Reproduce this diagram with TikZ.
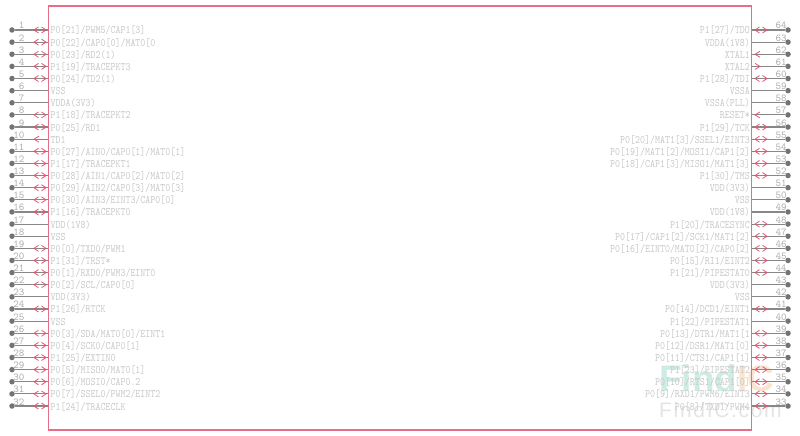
\documentclass[tikz,border=0pt]{standalone}
\usepackage{graphicx}
\usepackage{fontspec}
\newfontfamily\wmfont{Liberation Sans}
\newfontfamily\wmspaced[LetterSpace=8]{Liberation Sans}
\definecolor{chipred}{RGB}{232,110,135}
\definecolor{pinred}{RGB}{226,85,112}
\definecolor{pingrey}{RGB}{135,135,135}
\definecolor{numgrey}{RGB}{170,170,170}
\definecolor{labgrey}{RGB}{200,200,200}
\definecolor{wmteal}{RGB}{205,236,228}
\definecolor{wmorange}{RGB}{250,228,208}
\definecolor{wmgrey}{RGB}{228,228,228}
\tikzset{
  chipbox/.style={draw=chipred,line width=1.1pt,fill=none,minimum width=703pt,minimum height=424pt,inner sep=0pt},
  pindot/.style={circle,fill=pingrey!85!black,inner sep=0pt,minimum size=5.5pt},
  pinwire/.style={draw=pingrey,line width=1.1pt},
  pinnum/.style={text=numgrey,inner sep=0pt,font=\ttfamily\fontsize{10.5}{11}\selectfont},
  pinlab/.style={text=labgrey,inner sep=0pt,font=\ttfamily\fontsize{9.5}{10}\selectfont},
  chevron/.style={draw=pinred,line width=0.8pt},
  wmbig/.style={inner sep=0pt,font=\wmfont\bfseries\fontsize{37}{38}\selectfont},
  wmsmall/.style={inner sep=0pt,text=wmgrey,font=\wmspaced\fontsize{21}{22}\selectfont}
}
\newcommand\markBi[2]{%
  \draw[chevron] (#1+4.5,#2-3)--(#1,#2)--(#1+4.5,#2+3);
  \draw[chevron] (#1+7.5,#2-3)--(#1+12,#2)--(#1+7.5,#2+3);}
\newcommand\markInn[2]{\draw[chevron] (#1+5,#2-3)--(#1,#2)--(#1+5,#2+3);}
\newcommand\markOut[2]{\draw[chevron] (#1,#2-3)--(#1+5,#2)--(#1,#2+3);}
\newcommand\markNon[2]{}
\newcommand\tallfont[1]{\scalebox{1}[1.2]{#1}}
\begin{document}
\begin{tikzpicture}[x=1pt,y=-1pt]
\useasboundingbox (0,0) rectangle (800,436);
\node[wmbig,anchor=base west] (wmfind) at (659,391) {\textcolor{wmteal}{Find}\textcolor{wmorange}{IC}};
\node[wmsmall,anchor=base west] (wmcom) at (659,417) {FindIC.com};
\node[chipbox] (chip) at (400,218) {};
\foreach \n/\k/\t in {
 1/Bi/{P0[21]/PWM5/CAP1[3]},2/Bi/{P0[22]/CAP0[0]/MAT0[0},3/Bi/{P0[23]/RD2(1)},4/Bi/{P1[19]/TRACEPKT3},
 5/Bi/{P0[24]/TD2(1)},6/Non/{VSS},7/Non/{VDDA(3V3)},8/Bi/{P1[18]/TRACEPKT2},
 9/Bi/{P0[25]/RD1},10/Inn/{TD1},11/Bi/{P0[27]/AIN0/CAP0[1]/MAT0[1]},12/Bi/{P1[17]/TRACEPKT1},
 13/Bi/{P0[28]/AIN1/CAP0[2]/MAT0[2]},14/Bi/{P0[29]/AIN2/CAP0[3]/MAT0[3]},15/Bi/{P0[30]/AIN3/EINT3/CAP0[0]},16/Bi/{P1[16]/TRACEPKT0},
 17/Non/{VDD(1V8)},18/Non/{VSS},19/Bi/{P0[0]/TXD0/PWM1},20/Bi/{P1[31]/TRST*},
 21/Bi/{P0[1]/RXD0/PWM3/EINT0},22/Bi/{P0[2]/SCL/CAP0[0]},23/Non/{VDD(3V3)},24/Bi/{P1[26]/RTCK},
 25/Non/{VSS},26/Bi/{P0[3]/SDA/MAT0[0]/EINT1},27/Bi/{P0[4]/SCK0/CAP0[1]},28/Bi/{P1[25]/EXTIN0},
 29/Bi/{P0[5]/MISO0/MAT0[1]},30/Bi/{P0[6]/MOSI0/CAP0.2},31/Bi/{P0[7]/SSEL0/PWM2/EINT2},32/Bi/{P1[24]/TRACECLK}}{
  \pgfmathsetmacro\py{30+(\n-1)*12.13}
  \node[pindot] (pin\n) at (12,\py) {};
  \coordinate (edge\n) at (chip.west |- pin\n);
  \draw[pinwire] (pin\n) -- (edge\n);
  \node[pinnum,anchor=base east] (num\n) at (24.5,\py-1) {\n};
  \node[pinlab,anchor=west] (lab\n) at (50.5,\py+0.5) {\tallfont{\t}};
  \csname mark\k\endcsname{34}{\py}
}
\foreach \n/\k/\t in {
 33/Bi/{P0[8]/TXD1/PWM4},34/Bi/{P0[9]/RXD1/PWM6/EINT3},35/Bi/{P0[10]/RTS1/CAP1[0]},36/Bi/{P1[23]/PIPESTAT2},
 37/Bi/{P0[11]/CTS1/CAP1[1]},38/Bi/{P0[12]/DSR1/MAT1[0]},39/Bi/{P0[13]/DTR1/MAT1[1},40/Non/{P1[22]/PIPESTAT1},
 41/Bi/{P0[14]/DCD1/EINT1},42/Non/{VSS},43/Non/{VDD(3V3)},44/Bi/{P1[21]/PIPESTAT0},
 45/Bi/{P0[15]/RI1/EINT2},46/Bi/{P0[16]/EINT0/MAT0[2]/CAP0[2]},47/Bi/{P0[17]/CAP1[2]/SCK1/MAT1[2]},48/Bi/{P1[20]/TRACESYNC},
 49/Non/{VDD(1V8)},50/Non/{VSS},51/Non/{VDD(3V3)},52/Bi/{P1[30]/TMS},
 53/Bi/{P0[18]/CAP1[3]/MISO1/MAT1[3]},54/Bi/{P0[19]/MAT1[2]/MOSI1/CAP1[2]},55/Bi/{P0[20]/MAT1[3]/SSEL1/EINT3},56/Bi/{P1[29]/TCK},
 57/Inn/{RESET*},58/Non/{VSSA(PLL)},59/Non/{VSSA},60/Bi/{P1[28]/TDI},
 61/Out/{XTAL2},62/Inn/{XTAL1},63/Non/{VDDA(1V8)},64/Bi/{P1[27]/TDO}}{
  \pgfmathsetmacro\py{30+(64-\n)*12.13}
  \node[pindot] (pin\n) at (788,\py) {};
  \coordinate (edge\n) at (chip.east |- pin\n);
  \draw[pinwire] (pin\n) -- (edge\n);
  \node[pinnum,anchor=base west] (num\n) at (775.5,\py-1) {\n};
  \node[pinlab,anchor=east] (lab\n) at (750,\py+0.5) {\tallfont{\t}};
  \csname mark\k\endcsname{755}{\py}
}
\end{tikzpicture}
\end{document}
